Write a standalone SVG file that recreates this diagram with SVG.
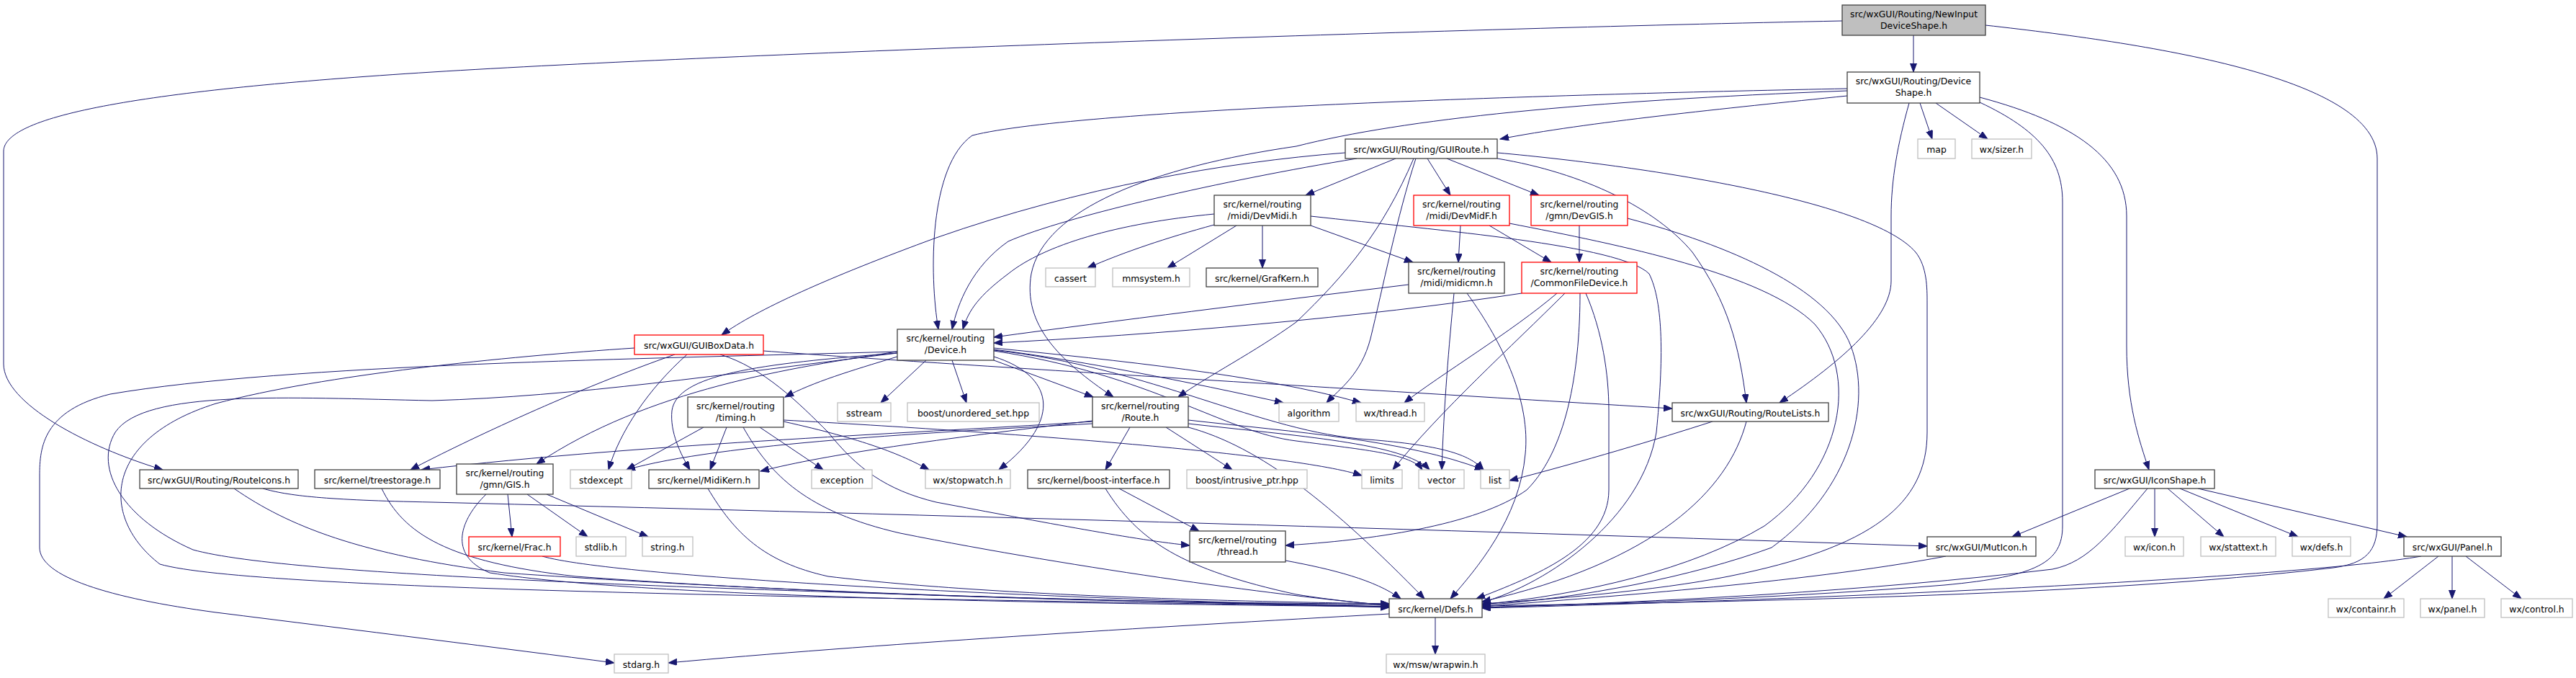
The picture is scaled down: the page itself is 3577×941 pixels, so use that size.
<svg xmlns="http://www.w3.org/2000/svg" width="3577" height="941" viewBox="0 0 3577 941">
<style>
.node rect{fill:#fff;stroke:#404040;stroke-width:1.3}
.node.red rect{stroke:#ff0000}
.node.ext rect{stroke:#bfbfbf}
.node.root rect{fill:#bfbfbf}
.node text{font-family:"DejaVu Sans",sans-serif;font-size:12.4px;fill:#000;text-anchor:middle}
#edges path{fill:none;stroke:#191970;stroke-width:1;marker-end:url(#a)}
</style>
<defs>
<marker id="a" markerWidth="13" markerHeight="10" refX="12" refY="4.5" orient="auto" markerUnits="userSpaceOnUse"><path d="M0,0 L12,4.5 L0,9 z" fill="#191970" stroke="#191970" stroke-width="1"/></marker>
</defs>
<rect width="3577" height="941" fill="#fff"/>
<g id="edges">
<path d="M2657,49 L2657,100"/>
<path d="M2558,29 C2000,40 1000,75 600,100 C200,125 5,160 5,210 L5,505 C5,560 120,620 226,652"/>
<path d="M2757,35 C3000,62 3301,110 3301,220 L3301,727 C3301,765 3285,782 3240,788 C2900,828 2400,835 2058,841"/>
<path d="M2565,133 C2400,150 2200,170 2083,193"/>
<path d="M2565,123 C2200,130 1500,150 1350,188 C1290,230 1290,380 1303,457"/>
<path d="M2565,126 C2200,140 1950,165 1800,203 C1600,232 1450,290 1432,380 C1420,450 1470,500 1546,551"/>
<path d="M2651,143 C2635,200 2626,250 2626,300 L2626,390 C2626,440 2560,500 2471,559"/>
<path d="M2666,143 L2683,193"/>
<path d="M2688,143 L2760,193"/>
<path d="M2749,135 C2880,170 2953,220 2953,300 L2953,480 C2953,560 2970,610 2984,652"/>
<path d="M2749,142 C2830,180 2864,220 2864,280 L2864,730 C2864,780 2830,800 2700,812 C2500,828 2300,836 2058,843"/>
<path d="M1868,212 C1700,225 1500,260 1300,330 C1150,385 1050,430 1002,465"/>
<path d="M1884,220 C1700,250 1480,300 1400,335 C1350,370 1330,420 1322,457"/>
<path d="M1938,220 L1813,271"/>
<path d="M1966,220 C1940,300 1920,400 1903,470 C1890,520 1860,540 1842,559"/>
<path d="M1963,220 C1920,320 1870,380 1800,447 C1740,490 1680,520 1636,551"/>
<path d="M1982,220 L2014,271"/>
<path d="M2009,220 L2137,271"/>
<path d="M2079,212 C2300,232 2600,280 2660,350 C2676,370 2676,400 2676,420 L2676,600 C2676,700 2600,760 2400,800 C2300,820 2150,832 2058,838"/>
<path d="M2079,220 C2200,240 2300,290 2350,350 C2400,420 2415,480 2425,559"/>
<path d="M1686,297 C1550,310 1450,340 1400,380 C1360,410 1345,430 1337,457"/>
<path d="M1686,312 C1620,330 1560,350 1510,372"/>
<path d="M1717,313 L1621,372"/>
<path d="M1753,313 L1753,372"/>
<path d="M1820,313 L1962,364"/>
<path d="M1820,300 C2000,320 2250,340 2290,380 C2310,420 2310,500 2300,600 C2280,720 2150,810 2058,836"/>
<path d="M2028,313 L2025,364"/>
<path d="M2068,313 L2154,364"/>
<path d="M2096,310 C2250,340 2450,380 2520,450 C2580,520 2560,650 2450,730 C2350,790 2200,825 2058,839"/>
<path d="M2193,313 L2193,364"/>
<path d="M2260,303 C2400,340 2540,400 2570,480 C2600,560 2570,680 2460,760 C2350,800 2200,830 2058,840"/>
<path d="M1956,395 C1750,420 1550,445 1380,468"/>
<path d="M2019,407 C2012,480 2005,560 2002,652"/>
<path d="M2037,407 C2090,480 2125,560 2118,630 C2110,720 2050,790 2014,831"/>
<path d="M2113,407 C1900,440 1600,465 1380,476"/>
<path d="M2162,407 C2100,460 2000,520 1950,559"/>
<path d="M2173,407 C2100,480 2000,570 1934,652"/>
<path d="M2194,407 C2194,500 2180,620 2120,680 C2050,730 1900,750 1785,757"/>
<path d="M2202,407 C2225,460 2234,520 2234,570 L2234,680 C2234,760 2130,800 2050,831"/>
<path d="M1286,500 L1223,559"/>
<path d="M1322,500 L1342,559"/>
<path d="M1380,500 L1518,551"/>
<path d="M1380,495 C1460,520 1480,580 1387,652"/>
<path d="M1380,485 C1500,500 1650,530 1782,559"/>
<path d="M1380,483 C1550,500 1750,520 1890,559"/>
<path d="M1060,487 C1300,505 1800,535 2322,567"/>
<path d="M1246,495 C1180,515 1130,530 1090,551"/>
<path d="M1246,488 C1100,510 900,540 745,644"/>
<path d="M1246,490 C1050,505 940,520 933,570 C930,600 945,630 958,652"/>
<path d="M1517,585 C1300,600 900,615 585,652"/>
<path d="M937,492 C800,540 650,610 570,652"/>
<path d="M1517,588 C1300,600 1000,615 870,652"/>
<path d="M1517,584 C1300,610 1150,630 1056,654"/>
<path d="M977,593 L870,652"/>
<path d="M1009,593 L986,652"/>
<path d="M1055,593 L1143,652"/>
<path d="M1000,492 C1060,510 1110,560 1150,600 C1190,650 1230,680 1300,697 C1450,725 1580,750 1652,757"/>
<path d="M1032,593 C1070,660 1120,710 1250,740 C1500,790 1800,830 1929,840"/>
<path d="M1088,585 C1200,610 1250,630 1290,652"/>
<path d="M1088,583 C1400,600 1800,630 1891,660"/>
<path d="M1569,593 L1535,652"/>
<path d="M1619,593 L1711,652"/>
<path d="M1650,583 C1800,600 1950,610 2060,652"/>
<path d="M1650,588 C1800,605 1950,615 1985,652"/>
<path d="M1650,593 C1750,620 1850,700 1978,831"/>
<path d="M1380,487 C1600,520 1700,600 1800,612 C1900,625 1960,630 1975,652"/>
<path d="M1380,486 C1600,510 1750,600 1900,610 C2000,618 2040,630 2060,652"/>
<path d="M1246,488 C900,498 400,505 153,547 C60,570 55,620 55,660 L55,760 C55,800 150,830 300,850 C500,875 700,900 853,920"/>
<path d="M1246,490 C1000,520 800,550 600,556 C400,552 200,540 160,600 C130,650 170,720 268,763 C400,800 1000,820 1929,843"/>
<path d="M881,483 C700,495 450,520 300,560 C140,610 140,720 222,783 C350,820 1200,830 1929,842"/>
<path d="M954,492 C900,540 860,600 845,652"/>
<path d="M325,678 C400,730 500,770 700,795 C1200,830 1700,838 1929,838"/>
<path d="M365,678 C400,688 450,694 600,697 C1200,712 2000,735 2676,758"/>
<path d="M530,678 C560,740 620,780 800,800 C1200,830 1700,838 1929,840"/>
<path d="M705,686 L711,745"/>
<path d="M732,686 L816,745"/>
<path d="M759,686 L900,745"/>
<path d="M675,686 C640,720 620,770 680,795 C900,830 1500,838 1929,842"/>
<path d="M753,772 C850,800 1400,830 1929,842"/>
<path d="M983,678 C1020,740 1060,780 1150,800 C1400,830 1800,836 1929,838"/>
<path d="M1554,678 L1665,737"/>
<path d="M1535,678 C1580,750 1640,790 1800,825 C1850,833 1900,838 1929,840"/>
<path d="M1785,778 C1850,790 1910,805 1945,831"/>
<path d="M2702,772 C2500,810 2200,830 2058,842"/>
<path d="M2957,678 L2794,745"/>
<path d="M2982,678 C2930,740 2900,780 2850,790 C2600,820 2300,836 2058,843"/>
<path d="M2992,678 L2992,745"/>
<path d="M3010,678 L3088,745"/>
<path d="M3027,678 L3191,745"/>
<path d="M3052,678 L3342,745"/>
<path d="M3386,772 L3310,831"/>
<path d="M3405,772 L3405,831"/>
<path d="M3424,772 L3501,831"/>
<path d="M3362,772 C3200,800 2600,830 2058,844"/>
<path d="M2378,585 C2300,610 2200,640 2096,667"/>
<path d="M2425,585 C2400,680 2300,780 2058,835"/>
<path d="M1993,857 L1993,908"/>
<path d="M1929,852 C1600,870 1200,895 928,920"/>
</g>
<g id="n_root" class="node root"><rect x="2558" y="7" width="199" height="42"/><text x="2657.5" y="24.3">src/wxGUI/Routing/NewInput</text><text x="2657.5" y="40">DeviceShape.h</text></g>
<g id="n_deviceshape" class="node"><rect x="2565" y="100" width="184" height="43"/><text x="2657" y="117.3">src/wxGUI/Routing/Device</text><text x="2657" y="133">Shape.h</text></g>
<g id="n_map" class="node ext"><rect x="2663" y="193" width="52" height="27"/><text x="2689" y="211.5">map</text></g>
<g id="n_sizer" class="node ext"><rect x="2738" y="193" width="83" height="27"/><text x="2779.5" y="211.5">wx/sizer.h</text></g>
<g id="n_guiroute" class="node"><rect x="1868" y="193" width="211" height="27"/><text x="1973.5" y="211.5">src/wxGUI/Routing/GUIRoute.h</text></g>
<g id="n_devmidi" class="node"><rect x="1686" y="271" width="134" height="42"/><text x="1753" y="288.3">src/kernel/routing</text><text x="1753" y="304">/midi/DevMidi.h</text></g>
<g id="n_devmidf" class="node red"><rect x="1963" y="271" width="133" height="42"/><text x="2029.5" y="288.3">src/kernel/routing</text><text x="2029.5" y="304">/midi/DevMidF.h</text></g>
<g id="n_devgis" class="node red"><rect x="2126" y="271" width="134" height="42"/><text x="2193" y="288.3">src/kernel/routing</text><text x="2193" y="304">/gmn/DevGIS.h</text></g>
<g id="n_cassert" class="node ext"><rect x="1452" y="372" width="69" height="26"/><text x="1486.5" y="390.5">cassert</text></g>
<g id="n_mmsystem" class="node ext"><rect x="1545" y="372" width="107" height="26"/><text x="1598.5" y="390.5">mmsystem.h</text></g>
<g id="n_grafkern" class="node"><rect x="1675" y="372" width="155" height="26"/><text x="1752.5" y="390.5">src/kernel/GrafKern.h</text></g>
<g id="n_midicmn" class="node"><rect x="1956" y="364" width="133" height="43"/><text x="2022.5" y="381.3">src/kernel/routing</text><text x="2022.5" y="397">/midi/midicmn.h</text></g>
<g id="n_commonfiledevice" class="node red"><rect x="2113" y="364" width="160" height="43"/><text x="2193" y="381.3">src/kernel/routing</text><text x="2193" y="397">/CommonFileDevice.h</text></g>
<g id="n_guiboxdata" class="node red"><rect x="881" y="465" width="179" height="27"/><text x="970.5" y="483.5">src/wxGUI/GUIBoxData.h</text></g>
<g id="n_device" class="node"><rect x="1246" y="457" width="134" height="43"/><text x="1313" y="474.3">src/kernel/routing</text><text x="1313" y="490">/Device.h</text></g>
<g id="n_sstream" class="node ext"><rect x="1163" y="559" width="74" height="26"/><text x="1200" y="577.5">sstream</text></g>
<g id="n_unordered" class="node ext"><rect x="1260" y="559" width="183" height="26"/><text x="1351.5" y="577.5">boost/unordered_set.hpp</text></g>
<g id="n_timing" class="node"><rect x="955" y="551" width="133" height="42"/><text x="1021.5" y="568.3">src/kernel/routing</text><text x="1021.5" y="584">/timing.h</text></g>
<g id="n_route" class="node"><rect x="1517" y="551" width="133" height="42"/><text x="1583.5" y="568.3">src/kernel/routing</text><text x="1583.5" y="584">/Route.h</text></g>
<g id="n_algorithm" class="node ext"><rect x="1776" y="559" width="83" height="26"/><text x="1817.5" y="577.5">algorithm</text></g>
<g id="n_wxthread" class="node ext"><rect x="1883" y="559" width="95" height="26"/><text x="1930.5" y="577.5">wx/thread.h</text></g>
<g id="n_routelists" class="node"><rect x="2322" y="559" width="217" height="26"/><text x="2430.5" y="577.5">src/wxGUI/Routing/RouteLists.h</text></g>
<g id="n_routeicons" class="node"><rect x="194" y="652" width="220" height="26"/><text x="304" y="670.5">src/wxGUI/Routing/RouteIcons.h</text></g>
<g id="n_treestorage" class="node"><rect x="437" y="652" width="174" height="26"/><text x="524" y="670.5">src/kernel/treestorage.h</text></g>
<g id="n_gis" class="node"><rect x="634" y="644" width="134" height="42"/><text x="701" y="661.3">src/kernel/routing</text><text x="701" y="677">/gmn/GIS.h</text></g>
<g id="n_stdexcept" class="node ext"><rect x="792" y="652" width="85" height="26"/><text x="834.5" y="670.5">stdexcept</text></g>
<g id="n_midikern" class="node"><rect x="901" y="652" width="153" height="26"/><text x="977.5" y="670.5">src/kernel/MidiKern.h</text></g>
<g id="n_exception" class="node ext"><rect x="1127" y="652" width="84" height="26"/><text x="1169" y="670.5">exception</text></g>
<g id="n_stopwatch" class="node ext"><rect x="1285" y="652" width="118" height="26"/><text x="1344" y="670.5">wx/stopwatch.h</text></g>
<g id="n_boostif" class="node"><rect x="1427" y="652" width="197" height="26"/><text x="1525.5" y="670.5">src/kernel/boost-interface.h</text></g>
<g id="n_intrusive" class="node ext"><rect x="1648" y="652" width="167" height="26"/><text x="1731.5" y="670.5">boost/intrusive_ptr.hpp</text></g>
<g id="n_limits" class="node ext"><rect x="1891" y="652" width="56" height="26"/><text x="1919" y="670.5">limits</text></g>
<g id="n_vector" class="node ext"><rect x="1970" y="652" width="63" height="26"/><text x="2001.5" y="670.5">vector</text></g>
<g id="n_list" class="node ext"><rect x="2056" y="652" width="40" height="26"/><text x="2076" y="670.5">list</text></g>
<g id="n_iconshape" class="node"><rect x="2909" y="652" width="166" height="26"/><text x="2992" y="670.5">src/wxGUI/IconShape.h</text></g>
<g id="n_thread" class="node"><rect x="1652" y="737" width="133" height="43"/><text x="1718.5" y="754.3">src/kernel/routing</text><text x="1718.5" y="770">/thread.h</text></g>
<g id="n_frac" class="node red"><rect x="651" y="745" width="127" height="27"/><text x="714.5" y="763.5">src/kernel/Frac.h</text></g>
<g id="n_stdlib" class="node ext"><rect x="800" y="745" width="69" height="27"/><text x="834.5" y="763.5">stdlib.h</text></g>
<g id="n_string" class="node ext"><rect x="892" y="745" width="70" height="27"/><text x="927" y="763.5">string.h</text></g>
<g id="n_muticon" class="node"><rect x="2676" y="745" width="151" height="27"/><text x="2751.5" y="763.5">src/wxGUI/MutIcon.h</text></g>
<g id="n_wxicon" class="node ext"><rect x="2951" y="745" width="81" height="27"/><text x="2991.5" y="763.5">wx/icon.h</text></g>
<g id="n_stattext" class="node ext"><rect x="3056" y="745" width="104" height="27"/><text x="3108" y="763.5">wx/stattext.h</text></g>
<g id="n_wxdefs" class="node ext"><rect x="3183" y="745" width="81" height="27"/><text x="3223.5" y="763.5">wx/defs.h</text></g>
<g id="n_panel" class="node"><rect x="3338" y="745" width="135" height="27"/><text x="3405.5" y="763.5">src/wxGUI/Panel.h</text></g>
<g id="n_defs" class="node"><rect x="1929" y="831" width="129" height="26"/><text x="1993.5" y="849.5">src/kernel/Defs.h</text></g>
<g id="n_containr" class="node ext"><rect x="3233" y="831" width="105" height="26"/><text x="3285.5" y="849.5">wx/containr.h</text></g>
<g id="n_wxpanel" class="node ext"><rect x="3361" y="831" width="89" height="26"/><text x="3405.5" y="849.5">wx/panel.h</text></g>
<g id="n_control" class="node ext"><rect x="3473" y="831" width="99" height="26"/><text x="3522.5" y="849.5">wx/control.h</text></g>
<g id="n_stdarg" class="node ext"><rect x="853" y="908" width="75" height="26"/><text x="890.5" y="926.5">stdarg.h</text></g>
<g id="n_wrapwin" class="node ext"><rect x="1925" y="908" width="137" height="26"/><text x="1993.5" y="926.5">wx/msw/wrapwin.h</text></g>
</svg>
